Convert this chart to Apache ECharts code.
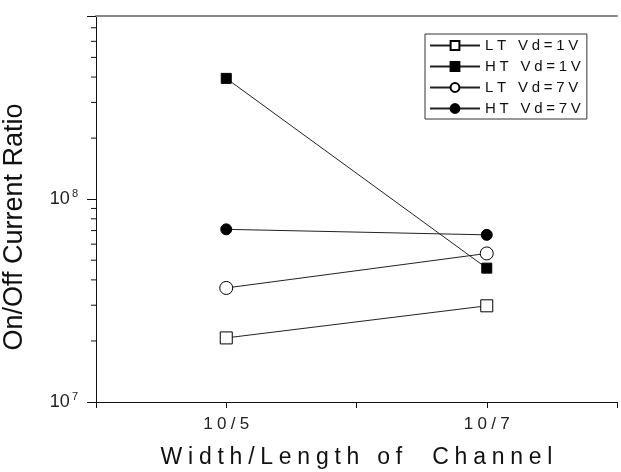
<!DOCTYPE html>
<html>
<head>
<meta charset="utf-8">
<script src="https://cdn.jsdelivr.net/npm/echarts@6/dist/echarts.min.js"></script>
<style>
  html, body { margin: 0; padding: 0; background: #fff; }
  #chart { width: 621px; height: 472px; }
</style>
</head>
<body>
<div id="chart"></div>
<script>
// channel W/L categories and where they sit on the x scale
const channelLabels = ['10/5', '10/7'];
const channelPos = [1, 3];

// on/off current ratio per series
const ltVd1 = [2.07e7, 2.98e7];
const htVd1 = [3.94e8, 4.57e7];
const ltVd7 = [3.65e7, 5.4e7];
const htVd7 = [7.1e7, 6.67e7];

// minor ticks on the log axis
const minorTickVals = [2e7, 3e7, 4e7, 5e7, 6e7, 7e7, 8e7, 9e7, 2e8, 3e8, 4e8, 5e8, 6e8, 7e8];

const FONT = 'Liberation Sans';
const spaced = (s, sep) => s.split('').join(sep);

const pairs = (vals) => vals.map((v, i) => [channelPos[i], v]);

function lineSeries(name, vals, symbol, filled, size) {
  return {
    name,
    type: 'line',
    data: pairs(vals),
    symbol,
    symbolSize: size,
    lineStyle: { color: '#222', width: 1 },
    itemStyle: { color: filled ? '#000' : '#fff', borderColor: '#000', borderWidth: 1 },
    z: 3,
  };
}

const chart = echarts.init(document.getElementById('chart'));
chart.setOption({
  animation: false,
  backgroundColor: '#fff',
  textStyle: { fontFamily: FONT },
  grid: { left: 96, right: 4, top: 16, bottom: 70, outerBoundsMode: 'none' },
  legend: {
    orient: 'vertical',
    left: 425,
    top: 34,
    borderColor: '#333',
    borderWidth: 1,
    padding: [4, 6, 3, 4],
    itemGap: 6,
    itemWidth: 50,
    itemHeight: 11,
    textStyle: { fontFamily: FONT, fontSize: 15, color: '#111' },
    formatter: (name) => spaced(name, '\u2005'),
    data: ['LT Vd=1V', 'HT Vd=1V', 'LT Vd=7V', 'HT Vd=7V'],
  },
  xAxis: [
    {
      type: 'value',
      min: 0,
      max: 4,
      interval: 1,
      name: spaced('Width/Length of  Channel', '\u2005'),
      nameLocation: 'middle',
      nameGap: 44,
      nameTextStyle: { fontFamily: FONT, fontSize: 23, color: '#111' },
      axisLine: { lineStyle: { color: '#111', width: 1 } },
      axisTick: { inside: false, length: 6, lineStyle: { color: '#111' } },
      axisLabel: {
        margin: 14,
        fontSize: 17,
        color: '#222',
        formatter: (v) => {
          const i = channelPos.indexOf(v);
          return i >= 0 ? spaced(channelLabels[i], '\u2005') : '';
        },
      },
      splitLine: { show: false },
    },
    {
      type: 'value',
      position: 'top',
      min: 0,
      max: 4,
      axisLine: { lineStyle: { color: '#888', width: 2 } },
      axisTick: { show: false },
      axisLabel: { show: false },
      splitLine: { show: false },
    },
  ],
  yAxis: [
    {
      type: 'log',
      logBase: 10,
      min: 1e7,
      max: 8e8,
      axisLine: { show: true, lineStyle: { color: '#111', width: 1 } },
      axisTick: { inside: false, length: 9, lineStyle: { color: '#111' } },
      axisLabel: {
        margin: 18,
        color: '#222',
        formatter: (v) => {
          const e = Math.log10(v);
          if (Math.abs(e - Math.round(e)) > 1e-6) return '';
          return '{b|10}{s|' + Math.round(e) + '}';
        },
        rich: {
          b: { fontSize: 18, fontFamily: FONT, color: '#222' },
          s: { fontSize: 11, fontFamily: FONT, color: '#222', padding: [0, 0, 11, 2] },
        },
      },
      splitLine: { show: false },
    },
    {
      type: 'log',
      position: 'right',
      min: 1e7,
      max: 8e8,
      axisLine: { show: true, lineStyle: { color: '#111', width: 1 } },
      axisTick: { show: false },
      axisLabel: { show: false },
      splitLine: { show: false },
    },
  ],
  graphic: [
    {
      type: 'text',
      x: 15,
      y: 227,
      rotation: Math.PI / 2,
      style: {
        text: 'On/Off Current Ratio',
        font: '27px "Liberation Sans"',
        fill: '#111',
        align: 'center',
        verticalAlign: 'middle',
      },
    },
  ],
  series: [
    lineSeries('LT Vd=1V', ltVd1, 'rect', false, 12),
    lineSeries('HT Vd=1V', htVd1, 'rect', true, 10),
    lineSeries('LT Vd=7V', ltVd7, 'circle', false, 13),
    lineSeries('HT Vd=7V', htVd7, 'circle', true, 11),
    {
      type: 'custom',
      silent: true,
      clip: false,
      data: minorTickVals.map((v) => [0, v]),
      renderItem: (params, api) => {
        const p = api.coord([0, api.value(1)]);
        return {
          type: 'line',
          shape: { x1: p[0] - 5, y1: p[1], x2: p[0], y2: p[1] },
          style: { stroke: '#111', lineWidth: 1 },
        };
      },
      z: 1,
    },
  ],
});
</script>
</body>
</html>
